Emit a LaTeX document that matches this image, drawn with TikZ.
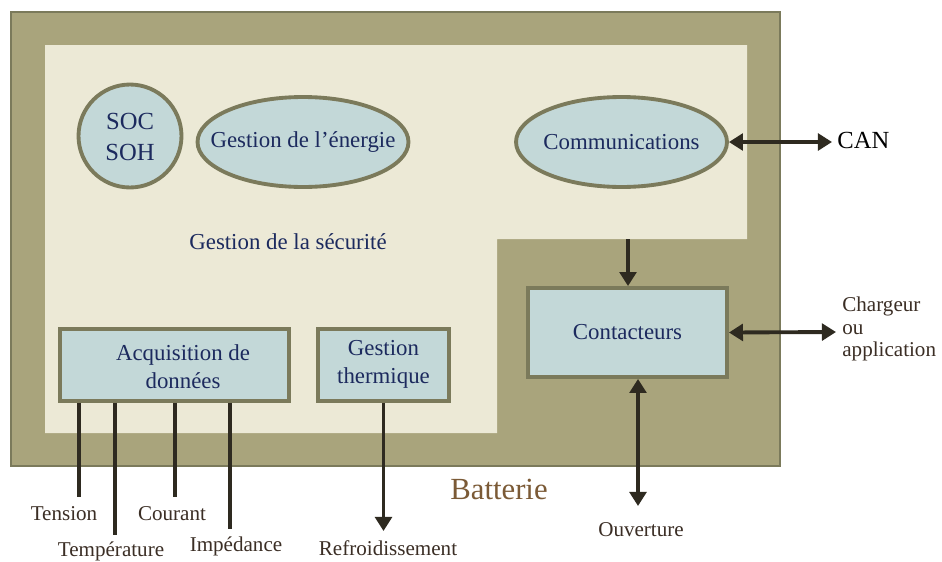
\documentclass[tikz,border=0pt]{standalone}
\usepackage{fontspec}
\setmainfont{Liberation Serif}
\usetikzlibrary{shapes.geometric,arrows.meta}
\definecolor{framefill}{HTML}{A9A47C}
\definecolor{frameline}{HTML}{7B7A5B}
\definecolor{innerfill}{HTML}{ECE9D6}
\definecolor{bubblefill}{HTML}{C3D8D8}
\definecolor{navy}{HTML}{1C2A5E}
\definecolor{brownlbl}{HTML}{3B2E25}
\definecolor{battc}{HTML}{7B5A36}
\definecolor{arrowc}{HTML}{2E2A20}
\begin{document}
\begin{tikzpicture}[x=0.02cm,y=-0.02cm,
  bubble/.style={draw=frameline, fill=bubblefill, line width=2.2pt, inner sep=0pt},
  boxnode/.style={draw=frameline, fill=bubblefill, line width=2.2pt, inner sep=0pt, rectangle},
  txt/.style={text=navy, font=\fontsize{13}{16}\selectfont, align=center, inner sep=0pt},
  lbl/.style={text=brownlbl, font=\fontsize{12}{13}\selectfont, inner sep=0pt},
  arr/.style={draw=arrowc, line width=2.2pt},
  wire/.style={draw=arrowc, line width=1.8pt},
  >={Triangle[length=8pt,width=9.5pt]}]
\useasboundingbox (0,0) rectangle (942,561);
\fill[white] (0,0) rectangle (942,561);
% battery frame
\draw[fill=framefill, draw=frameline, line width=1.6pt] (11,12) rectangle (780,466);
\fill[innerfill] (45,45) -- (747,45) -- (747,239) -- (497,239) -- (497,433) -- (45,433) -- cycle;
% nodes
\node[bubble, circle, minimum size=2.06cm] (soc) at (130,136) {};
\node[txt, font=\fontsize{14}{17.5}\selectfont] (soct) at (130,137) {SOC\\SOH};
\node[bubble, ellipse, minimum width=4.22cm, minimum height=1.8cm] (nrj) at (303,142) {};
\node[txt] (nrjt) at (303,142) {Gestion de l’énergie};
\node[bubble, ellipse, minimum width=4.22cm, minimum height=1.8cm] (com) at (621.5,142) {};
\node[txt] (comt) at (621.5,142) {Communications};
\node[txt] (secu) at (288,242) {Gestion de la sécurité};
\node[boxnode, minimum width=3.98cm, minimum height=1.78cm] (cont) at (627.5,332.5) {};
\node[txt] (contt) at (627.5,332) {Contacteurs};
\node[boxnode, minimum width=4.58cm, minimum height=1.44cm] (acq) at (174.5,365) {};
\node[txt] (acqt) at (183,367) {Acquisition de\\données};
\node[boxnode, minimum width=2.62cm, minimum height=1.44cm] (th) at (383.5,365) {};
\node[txt] (tht) at (383.5,364) {Gestion\\thermique};
% outside labels
\node[text=black, font=\fontsize{14}{14}\selectfont, anchor=west, inner sep=0pt] (can) at (837,140) {CAN};
\node[lbl, anchor=west, align=left, font=\fontsize{12}{12.8}\selectfont] (chg) at (842,329) {Chargeur\\ou\\application};
\node[text=battc, font=\fontsize{17.5}{17.5}\selectfont, inner sep=0pt] (batt) at (499,489) {Batterie};
\node[lbl] (tens) at (64,514) {Tension};
\node[lbl] (temp) at (111,551) {Température};
\node[lbl] (cour) at (172,514) {Courant};
\node[lbl] (imp) at (236,546) {Impédance};
\node[lbl] (refr) at (388,548) {Refroidissement};
\node[lbl] (ouv) at (641,530) {Ouverture};
% coordinates
\coordinate (canend) at (832,142);
\coordinate (chgend) at (836,332);
\coordinate (step) at (628,239);
\coordinate (ouvend) at (638,506);
\coordinate (refrend) at (383.5,531);
\coordinate (w1) at (79,497);
\coordinate (w2) at (115,535);
\coordinate (w3) at (175,497);
\coordinate (w4) at (230,529);
% connectors
\draw[arr,<->] (com.east) -- (canend);
\draw[arr,<->] (cont.east) -- (chgend);
\draw[arr,->] (step) -- (step |- cont.north);
\draw[arr,<->] (ouvend |- cont.south) -- (ouvend);
\draw[arr,->] (th.south) -- (refrend);
\draw[wire] (w1 |- acq.south) -- (w1);
\draw[wire] (w2 |- acq.south) -- (w2);
\draw[wire] (w3 |- acq.south) -- (w3);
\draw[wire] (w4 |- acq.south) -- (w4);
\end{tikzpicture}
\end{document}
